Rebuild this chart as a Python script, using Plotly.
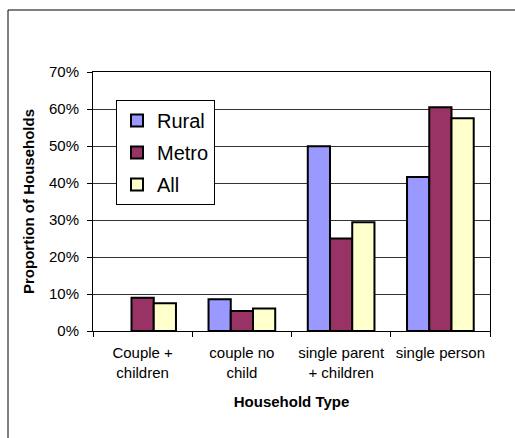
import plotly.graph_objects as go

categories = ["Couple +<br>children", "couple no<br>child", "single parent<br>+ children", "single person"]
rural = [None, 0.086, 0.499, 0.416]
metro = [0.090, 0.054, 0.250, 0.605]
all_hh = [0.075, 0.061, 0.294, 0.575]
series_names = ["Rural", "Metro", "All"]
series_colors = ["#9999FF", "#993366", "#FFFFCC"]
y_ticks = [0, 0.1, 0.2, 0.3, 0.4, 0.5, 0.6, 0.7]

FONT = "Liberation Sans, Arial, sans-serif"

fig = go.Figure()
for name, vals, col in zip(series_names, [rural, metro, all_hh], series_colors):
    fig.add_trace(go.Bar(
        x=categories, y=vals, name=name, legendgroup=name,
        marker=dict(color=col, line=dict(color="black", width=2)),
    ))

W, H = 515, 438
L, R, T, B = 93, 25, 72, 107
pw, ph = W - L - R, H - T - B

fig.update_layout(
    width=W, height=H,
    margin=dict(l=L, r=R, t=T, b=B),
    paper_bgcolor="white", plot_bgcolor="white",
    font=dict(family=FONT, size=15, color="black"),
    barmode="group", bargap=0.328, bargroupgap=0,
    showlegend=True,
    legend=dict(
        x=(116 - L) / pw, y=(H - B - 100) / ph, xanchor="left", yanchor="top",
        bgcolor="white", bordercolor="black", borderwidth=1,
        font=dict(family=FONT, size=20, color="black"),
        traceorder="grouped", tracegroupgap=3, itemwidth=30,
    ),
    xaxis=dict(
        showline=True, linecolor="black", linewidth=1, mirror=True,
        ticks="outside", ticklen=5, tickcolor="black", tickson="boundaries",
        showgrid=False, ticklabelstandoff=8,
        title=dict(text="<b>Household Type</b>", font=dict(size=15), standoff=16),
        tickfont=dict(size=15),
    ),
    yaxis=dict(
        range=[0, 0.7], tickvals=y_ticks, tickformat=".0%",
        showline=True, linecolor="black", linewidth=1, mirror=True,
        ticks="outside", ticklen=5, tickcolor="black", ticklabelstandoff=5,
        showgrid=True, gridcolor="#333333", gridwidth=1,
        zeroline=False,
        title=dict(text="<b>Proportion of Households</b>", font=dict(size=15), standoff=10),
        tickfont=dict(size=15),
    ),
    shapes=[dict(
        type="rect", xref="paper", yref="paper",
        x0=(8 - L) / pw, x1=3,
        y0=-3, y1=(H - B - 10) / ph,
        line=dict(color="black", width=1), fillcolor="rgba(0,0,0,0)", layer="below",
    )],
)

fig.write_html("out.html")
